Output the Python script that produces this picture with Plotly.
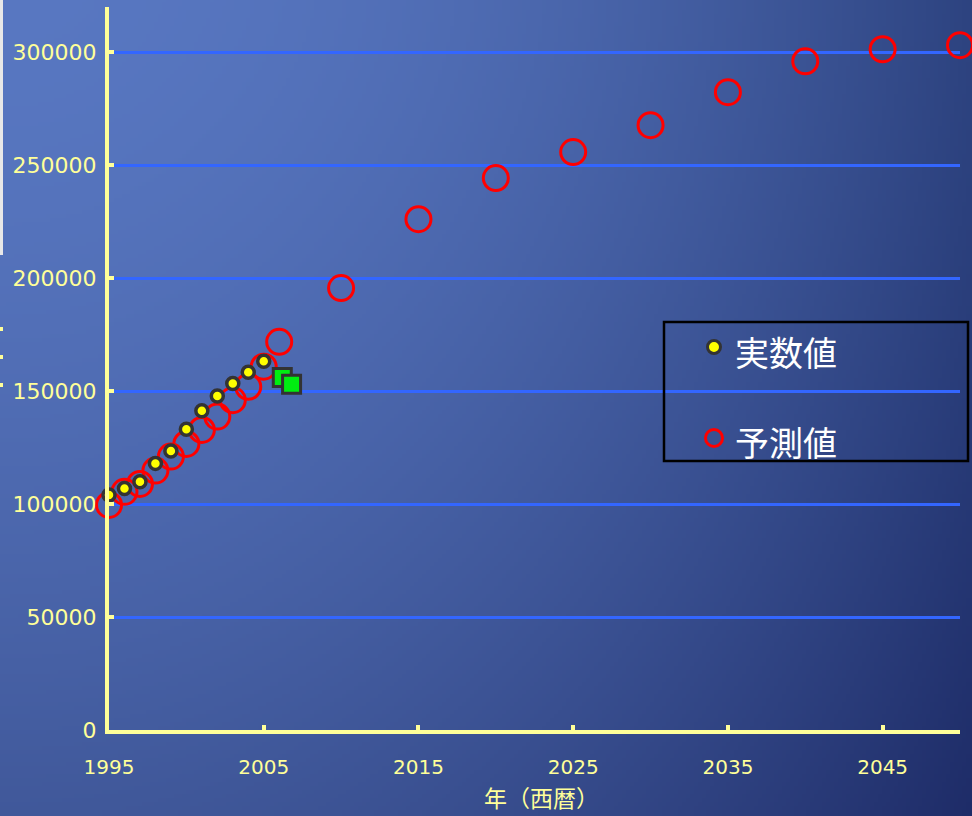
import zlib, struct, base64
import plotly.graph_objects as go

# ---------------- data ----------------
years_actual = [1995, 1996, 1997, 1998, 1999, 2000, 2001, 2002, 2003, 2004, 2005]
values_actual = [104000, 106900, 109900, 118000, 123500, 133100, 141300, 147800, 153400, 158300, 163200]

years_pred = [1995, 1996, 1997, 1998, 1999, 2000, 2001, 2002, 2003, 2004, 2005, 2006,
              2010, 2015, 2020, 2025, 2030, 2035, 2040, 2045, 2050]
values_pred = [99600, 105400, 108900, 114800, 121000, 126600, 132800, 138700, 146000, 151900,
               160800, 171800, 195600, 226100, 244300, 255800, 267700, 282300, 296000, 301300, 303100]

years_green = [2006.2, 2006.8]
values_green = [156000, 153000]

x_ticks = [1995, 2005, 2015, 2025, 2035, 2045]
y_ticks = [0, 50000, 100000, 150000, 200000, 250000, 300000]
legend_names = ["実数値", "予測値"]
x_title = "年（西暦）"

# ---------------- geometry (pixels) ----------------
W, H = 972, 816
PL, PR, PT, PB = 109, 960, 7, 730

def px(x):
    return (x - PL) / (PR - PL)

def py(y):
    return (PB - y) / (PB - PT)

# ---------------- gradient background as PNG ----------------
TL = (88, 119, 193)
TR = (45, 67, 128)
BL = (64, 88, 154)
BR = (30, 44, 104)
GW, GH = 243, 204
rows = []
for j in range(GH):
    v = (j / (GH - 1)) ** 1.5
    row = bytearray([0])
    for i in range(GW):
        u = (i / (GW - 1)) ** 2
        for k in range(3):
            top = TL[k] + (TR[k] - TL[k]) * u
            bot = BL[k] + (BR[k] - BL[k]) * u
            row.append(int(round(top + (bot - top) * v)))
    rows.append(bytes(row))
raw = b"".join(rows)

def chunk(t, d):
    c = struct.pack(">I", len(d)) + t + d
    return c + struct.pack(">I", zlib.crc32(t + d) & 0xffffffff)

png = (b"\x89PNG\r\n\x1a\n"
       + chunk(b"IHDR", struct.pack(">IIBBBBB", GW, GH, 8, 2, 0, 0, 0))
       + chunk(b"IDAT", zlib.compress(raw, 9))
       + chunk(b"IEND", b""))
bg_src = "data:image/png;base64," + base64.b64encode(png).decode()

YEL = "#FFFF99"
FONT_NUM = "DejaVu Sans"
FONT_JP = "Noto Sans CJK JP"

fig = go.Figure()

fig.add_trace(go.Scatter(
    x=years_pred, y=values_pred, mode="markers", name=legend_names[1],
    marker=dict(symbol="circle-open", size=25, color="#FF0000", line=dict(color="#FF0000", width=3)),
    cliponaxis=False, showlegend=False))

fig.add_trace(go.Scatter(
    x=years_actual, y=values_actual, mode="markers", name=legend_names[0],
    marker=dict(symbol="circle", size=12, color="#FFFF00", line=dict(color="#333333", width=3.5)),
    cliponaxis=False, showlegend=False))

fig.add_trace(go.Scatter(
    x=years_green, y=values_green, mode="markers", name="green",
    marker=dict(symbol="square", size=18, color="#00EE11", line=dict(color="#333333", width=3)),
    cliponaxis=False, showlegend=False))

# manual legend markers on an overlay axis in paper units
fig.add_trace(go.Scatter(
    x=[px(714)], y=[py(347)], xaxis="x2", yaxis="y2", mode="markers",
    marker=dict(symbol="circle", size=13, color="#FFFF00", line=dict(color="#333333", width=3)),
    cliponaxis=False, showlegend=False, hoverinfo="skip"))
fig.add_trace(go.Scatter(
    x=[px(714)], y=[py(438)], xaxis="x2", yaxis="y2", mode="markers",
    marker=dict(symbol="circle-open", size=17, color="#FF0000", line=dict(color="#FF0000", width=3)),
    cliponaxis=False, showlegend=False, hoverinfo="skip"))

shapes = [
    dict(type="rect", xref="paper", yref="paper", x0=px(664), x1=px(968), y0=py(322), y1=py(461),
         line=dict(color="#000000", width=2.5), fillcolor="rgba(0,0,0,0)", layer="above"),
    dict(type="rect", xref="paper", yref="paper", x0=px(0), x1=px(3), y0=py(0), y1=py(255),
         line=dict(width=0), fillcolor="#E8E8E8", layer="above"),
]
for yy in (329, 357, 385):
    shapes.append(dict(type="rect", xref="paper", yref="paper", x0=px(0), x1=px(3),
                       y0=py(yy - 2), y1=py(yy + 2), line=dict(width=0), fillcolor=YEL, layer="above"))

annotations = [
    dict(text=legend_names[0], xref="paper", yref="paper", x=px(733), y=py(351), xanchor="left",
         yanchor="middle", showarrow=False, font=dict(family=FONT_JP, size=34, color="#FFFFFF")),
    dict(text=legend_names[1], xref="paper", yref="paper", x=px(733), y=py(441), xanchor="left",
         yanchor="middle", showarrow=False, font=dict(family=FONT_JP, size=34, color="#FFFFFF")),
    dict(text=x_title, xref="paper", yref="paper", x=px(541), y=py(797), xanchor="center",
         yanchor="middle", showarrow=False, font=dict(family=FONT_JP, size=23, color=YEL)),
]

fig.update_layout(
    width=W, height=H,
    margin=dict(l=PL, r=W - PR, t=PT, b=H - PB, pad=0),
    paper_bgcolor="#3F5AA0",
    plot_bgcolor="rgba(0,0,0,0)",
    showlegend=False,
    images=[dict(source=bg_src, xref="paper", yref="paper", x=px(0), y=py(0),
                 sizex=px(W) - px(0), sizey=py(0) - py(H), sizing="stretch",
                 xanchor="left", yanchor="top", layer="below")],
    xaxis=dict(range=[1995, 2050], tickvals=x_ticks, ticktext=[str(t) for t in x_ticks],
               showgrid=False, zeroline=False, showline=True, linecolor=YEL, linewidth=4,
               ticks="inside", ticklen=5, tickwidth=4, tickcolor=YEL, ticklabelstandoff=16,
               tickfont=dict(family=FONT_NUM, size=20, color=YEL)),
    yaxis=dict(range=[0, 320000], tickvals=y_ticks, ticktext=[str(t) for t in y_ticks],
               showgrid=True, gridcolor="#3366FF", gridwidth=3, zeroline=False,
               showline=True, linecolor=YEL, linewidth=4,
               ticks="inside", ticklen=5, tickwidth=4, tickcolor=YEL, ticklabelstandoff=4,
               tickfont=dict(family=FONT_NUM, size=22, color=YEL)),
    xaxis2=dict(overlaying="x", range=[0, 1], visible=False),
    yaxis2=dict(overlaying="y", range=[0, 1], visible=False),
    shapes=shapes,
    annotations=annotations,
)

fig.write_html("out.html")
